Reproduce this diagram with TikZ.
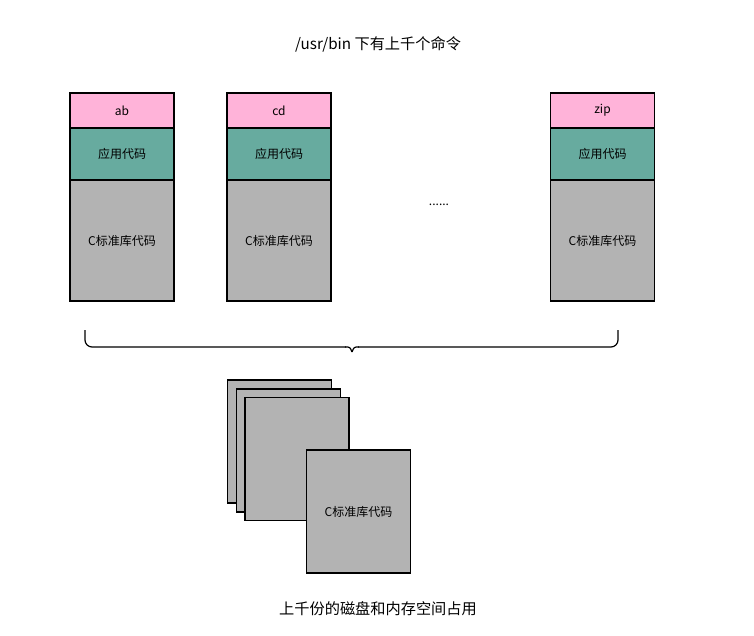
\documentclass[tikz,border=0pt]{standalone}
\usepackage{fontspec}
\setmainfont{Noto Sans CJK SC}
\usetikzlibrary{positioning}
\definecolor{cmdpink}{HTML}{FFB3D9}
\definecolor{codegreen}{HTML}{67AB9F}
\definecolor{libgray}{HTML}{B3B3B3}
\tikzset{
  part/.style={draw=black,line width=1.3pt,minimum width=104pt,inner sep=0pt,outer sep=0pt,font=\fontsize{12}{14}\selectfont},
  cmdpart/.style={part,fill=cmdpink,minimum height=35pt},
  apppart/.style={part,fill=codegreen,minimum height=52pt},
  libpart/.style={part,fill=libgray,minimum height=121pt},
  libpage/.style={part,fill=libgray,minimum height=123pt},
  caption/.style={font=\fontsize{15.2}{17}\selectfont}
}
\begin{document}
\begin{tikzpicture}[x=1pt,y=-1pt]
        \useasboundingbox (0,0) rectangle (754,635);

        \node[caption] (title) at (378,44) {/usr/bin 下有上千个命令};

        % the command columns
        \foreach \cmd/\x in {ab/122,cd/279,zip/602.5} {
            \node[cmdpart] (cmd\cmd) at (\x,110.5) {\cmd};
            \node[apppart,below=0pt of cmd\cmd] (app\cmd) {应用代码};
            \node[libpart,below=0pt of app\cmd] (lib\cmd) {C标准库代码};
        }
        \node[font=\fontsize{12}{14}\selectfont] (dots) at (439,205) {......};

        % brace under the columns
        \coordinate (braceL) at (85,330);
        \coordinate (braceR) at (618,330);
        \coordinate (braceTip) at (352,352);
        \draw[line width=1.2pt,rounded corners=7pt] (braceL) |- (346,347);
        \draw[line width=1.2pt,rounded corners=7pt] (braceR) |- (358,347);
        \draw[line width=1.2pt] (345,347) .. controls (350,347) .. (braceTip);
        \draw[line width=1.2pt] (359,347) .. controls (354,347) .. (braceTip);

        % shared copies on disk and in memory
        \node[libpage] (page1) at (279.5,441.5) {};
        \node[libpage] (page2) at (288.5,450.5) {};
        \node[libpage] (page3) at (297,459) {};
        \node[libpage] (pagelib) at (358.5,511.5) {C标准库代码};

        \node[caption] (usage) at (378,609) {上千份的磁盘和内存空间占用};
\end{tikzpicture}
\end{document}
